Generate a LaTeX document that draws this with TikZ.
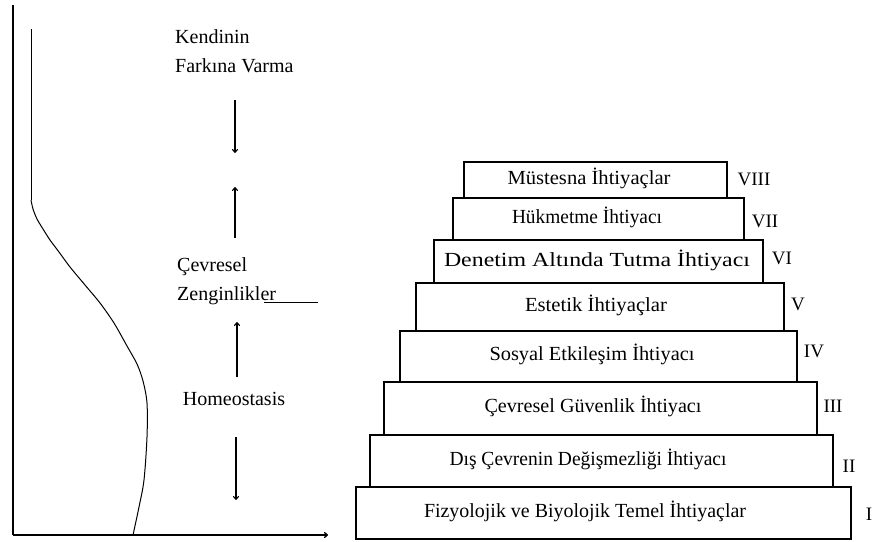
\documentclass[tikz,border=0pt]{standalone}
\usepackage{fontspec}
\usepackage{graphicx}
\setmainfont{Liberation Serif}
\usetikzlibrary{arrows.meta}
\newcommand{\fitw}[2]{\resizebox{#1pt}{\height}{#2}}
\tikzset{
  stair/.style={draw, line width=1.3pt, inner sep=0pt},
  lbl/.style={font=\fontsize{20}{24}\selectfont, inner sep=0pt, anchor=base},
  side/.style={font=\fontsize{20}{24}\selectfont, inner sep=0pt, anchor=base west},
  num/.style={font=\fontsize{19}{24}\selectfont, inner sep=0pt, anchor=base},
  arr/.style={line width=1.1pt, -{To[length=4pt,width=6pt]}},
  axis/.style={line width=1.3pt},
  curve/.style={line width=1pt},
}
\begin{document}
\begin{tikzpicture}[x=1pt,y=-1pt]
\useasboundingbox (0,0) rectangle (875,541);
% axes
\coordinate (ytop) at (13,5);
\coordinate (orig) at (13,535);
\coordinate (xend) at (328,535);
\draw[axis] (ytop) -- (orig);
\draw[axis, -{To[length=4pt,width=6pt]}] (orig) -- (xend);
% curve
\coordinate (c0) at (31,29);
\coordinate (c1) at (31,200);
\draw[curve] (c0) -- (c1);
\draw[curve] plot[smooth, tension=0.5] coordinates {(31,200) (33,209) (37,219) (43,229) (50,240) (59,252) (70,267) (85,285) (100,303) (114,323) (127,346) (137,364) (143,381) (147,403) (147,437) (144,480) (139,507) (133,535)};
% left labels
\node[side] (ken) at (175,43) {Kendinin};
\node[side] (far) at (175,72) {Farkına Varma};
\node[side] (cev) at (177,271) {Çevresel};
\node[side] (zen) at (177,300) {Zenginlikler};
\node[lbl] (hom) at (234,405) {Homeostasis};
\coordinate (u1) at (264,302);
\coordinate (u2) at (318,302);
\draw[line width=1pt] (u1) -- (u2);
% arrows
\coordinate (a1s) at (235,100); \coordinate (a1e) at (235,153);
\coordinate (a2s) at (235,238); \coordinate (a2e) at (235,187);
\coordinate (a3s) at (237,377); \coordinate (a3e) at (237,322);
\coordinate (a4s) at (236,437); \coordinate (a4e) at (236,500);
\draw[arr] (a1s) -- (a1e);
\draw[arr] (a2s) -- (a2e);
\draw[arr] (a3s) -- (a3e);
\draw[arr] (a4s) -- (a4e);
% stairs
\node[stair, minimum width=263pt, minimum height=36pt] (b8) at (595.5,180) {};
\node[stair, minimum width=291pt, minimum height=42pt] (b7) at (598.5,219) {};
\node[stair, minimum width=329pt, minimum height=43pt] (b6) at (598.5,261.5) {};
\node[stair, minimum width=368pt, minimum height=48pt] (b5) at (600,307) {};
\node[stair, minimum width=397pt, minimum height=51pt] (b4) at (598.5,356.5) {};
\node[stair, minimum width=433pt, minimum height=53pt] (b3) at (600.5,408.5) {};
\node[stair, minimum width=463pt, minimum height=52pt] (b2) at (601.5,461) {};
\node[stair, minimum width=495pt, minimum height=52pt] (b1) at (603.5,513) {};
% stair texts
\node[lbl] (t8) at (589,184) {\fitw{163}{Müstesna İhtiyaçlar}};
\node[lbl] (t7) at (587,223) {\fitw{150}{Hükmetme İhtiyacı}};
\node[lbl] (t6) at (597,266) {\fitw{306}{Denetim Altında Tutma İhtiyacı}};
\node[lbl] (t5) at (596,311) {\fitw{142}{Estetik İhtiyaçlar}};
\node[lbl] (t4) at (592,360) {\fitw{205}{Sosyal Etkileşim İhtiyacı}};
\node[lbl] (t3) at (593,412) {\fitw{217}{Çevresel Güvenlik İhtiyacı}};
\node[lbl] (t2) at (588,465) {\fitw{277}{Dış Çevrenin Değişmezliği İhtiyacı}};
\node[lbl] (t1) at (585,517) {\fitw{322}{Fizyolojik ve Biyolojik Temel İhtiyaçlar}};
% numerals
\node[num] (n8) at (754,185) {VIII};
\node[num] (n7) at (765,227) {VII};
\node[num] (n6) at (782,264) {VI};
\node[num] (n5) at (798,310) {V};
\node[num] (n4) at (814,357) {IV};
\node[num] (n3) at (833,412) {III};
\node[num] (n2) at (849,472) {II};
\node[num] (n1) at (869,520) {I};
\end{tikzpicture}
\end{document}
